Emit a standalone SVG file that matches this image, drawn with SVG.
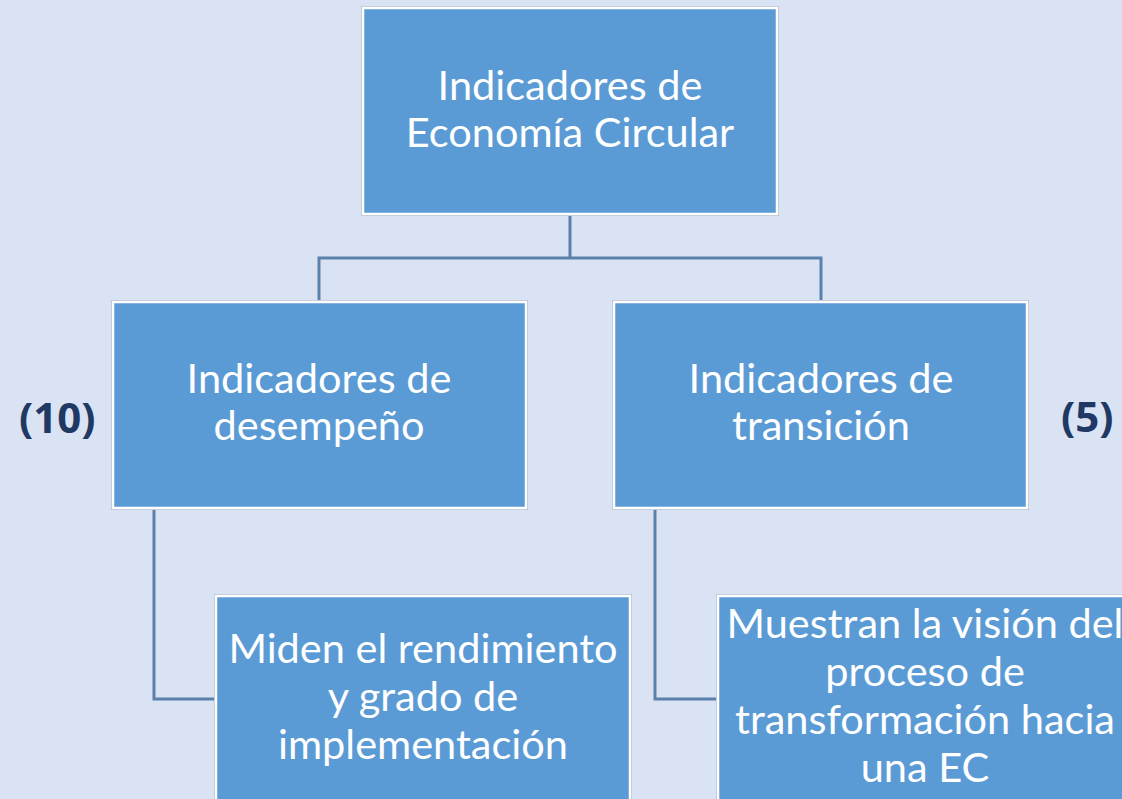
<svg xmlns="http://www.w3.org/2000/svg" width="1122" height="799" viewBox="0 0 1122 799">
<style>
.box{fill:#5b9bd5;stroke:#ffffff;stroke-width:2.5}
.outline{fill:none;stroke:#b4bccb;stroke-width:1}
.t{font-family:Lato,"Open Sans","Liberation Sans",sans-serif;font-size:41.5px;fill:#ffffff;text-anchor:middle}
.c{fill:none;stroke:#5a80ab;stroke-width:3}
.n{font-family:"Open Sans","Liberation Sans",sans-serif;font-weight:bold;font-size:42px;fill:#1f3864}
</style>
<rect width="1122" height="799" fill="#dae3f3"/>
<g id="connectors">
<path class="c" d="M570 215V258M319 301V258H821V301"/>
<path class="c" d="M154 509V699H216"/>
<path class="c" d="M655 509V699H718"/>
</g>
<g id="n-root">
<rect class="outline" x="361.5" y="6.5" width="417" height="209"/>
<rect class="box" x="363" y="8" width="414" height="206"/>
<text class="t" x="570" y="100">Indicadores de</text>
<text class="t" x="570" y="147">Economía Circular</text>
</g>
<g id="n-desempeno">
<rect class="outline" x="111.5" y="300.5" width="416" height="209"/>
<rect class="box" x="113" y="302" width="413" height="206"/>
<text class="t" x="319" y="393">Indicadores de</text>
<text class="t" x="319" y="440">desempeño</text>
</g>
<g id="n-transicion">
<rect class="outline" x="612.5" y="300.5" width="416" height="209"/>
<rect class="box" x="614" y="302" width="413" height="206"/>
<text class="t" x="821" y="393">Indicadores de</text>
<text class="t" x="821" y="440">transición</text>
</g>
<g id="n-miden">
<rect class="outline" x="214.5" y="594.5" width="417" height="220"/>
<rect class="box" x="216" y="596" width="414" height="220"/>
<text class="t" x="423" y="663">Miden el rendimiento</text>
<text class="t" x="423" y="711">y grado de</text>
<text class="t" x="423" y="759">implementación</text>
</g>
<g id="n-muestran">
<rect class="outline" x="716.5" y="594.5" width="417" height="220"/>
<rect class="box" x="718" y="596" width="414" height="220"/>
<text class="t" x="925" y="638">Muestran la visión del</text>
<text class="t" x="925" y="686">proceso de</text>
<text class="t" x="925" y="734">transformación hacia</text>
<text class="t" x="925" y="782">una EC</text>
</g>
<g id="labels">
<text class="n" x="19" y="433">(10)</text>
<text class="n" x="1061" y="432">(5)</text>
</g>
</svg>
